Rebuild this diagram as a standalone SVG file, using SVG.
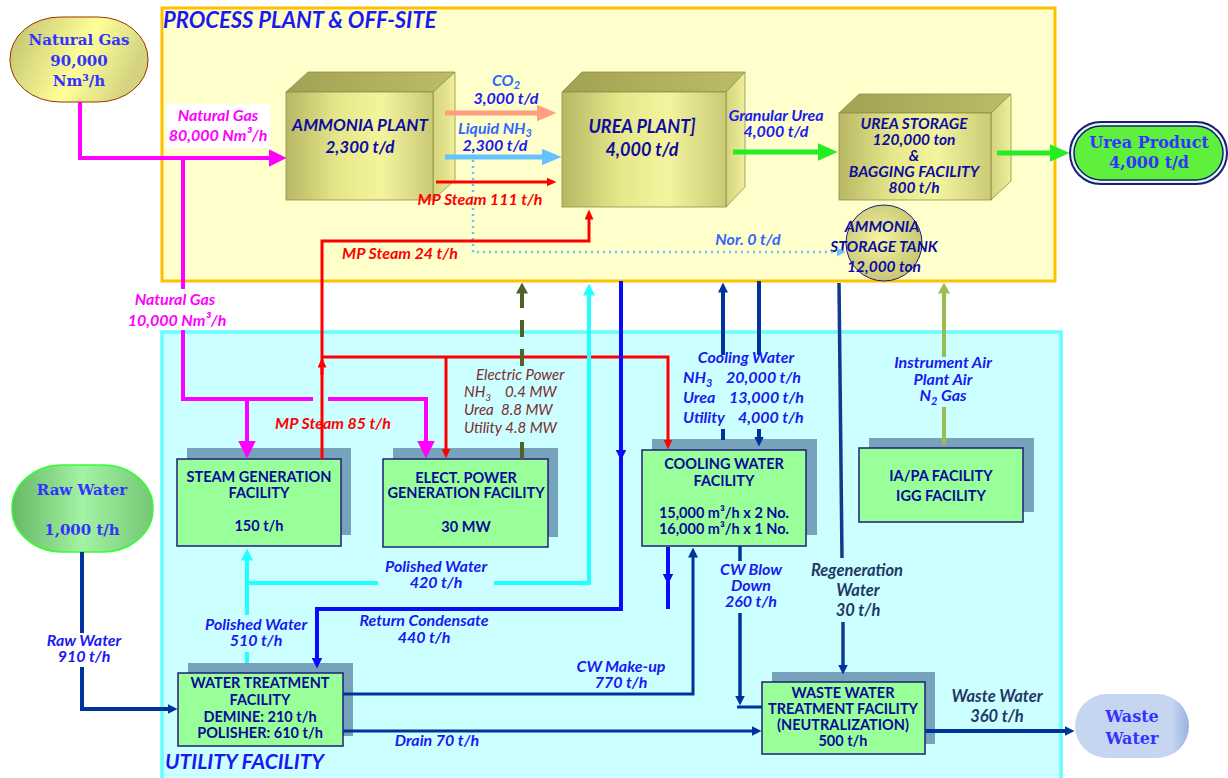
<svg xmlns="http://www.w3.org/2000/svg" width="1228" height="778" viewBox="0 0 1228 778">
<style>
.box{font-family:Lato,"Liberation Sans",sans-serif;font-weight:700;font-size:14.5px;fill:#0A0A99;text-anchor:middle}
.plant{font-family:Lato,"Liberation Sans",sans-serif;font-style:italic;font-weight:700;font-size:17px;fill:#0D0D9E;text-anchor:middle}
.lbl{font-family:Lato,"Liberation Sans",sans-serif;font-style:italic;font-weight:700;font-size:16px;fill:#1A1AF0;text-anchor:middle}
.lbl2{font-family:Lato,"Liberation Sans",sans-serif;font-style:italic;font-weight:700;font-size:16px;fill:#3366FF;text-anchor:middle}
.mag{font-family:Lato,"Liberation Sans",sans-serif;font-style:italic;font-weight:700;font-size:16px;fill:#FF00FF;text-anchor:middle}
.red{font-family:Lato,"Liberation Sans",sans-serif;font-style:italic;font-weight:700;font-size:16px;fill:#FF0000;text-anchor:middle}
.brn{font-family:Lato,"Liberation Sans",sans-serif;font-style:italic;font-size:15px;fill:#7A2E2E}
.slate{font-family:Lato,"Liberation Sans",sans-serif;font-style:italic;font-weight:700;font-size:16.5px;fill:#1F3864;text-anchor:middle}
.ser{font-family:"DejaVu Serif","Liberation Serif",serif;font-weight:700;font-size:15px;fill:#3333FF;text-anchor:middle}
.title{font-family:Lato,"Liberation Sans",sans-serif;font-style:italic;font-weight:700;font-size:22px;fill:#1A1AF0}
.fac{fill:#99FF99;stroke:#1F1F7A;stroke-width:1.5}
.shd{fill:#77A2BC}
</style>
<defs>
<linearGradient id="gFront" x1="0" y1="0" x2="1" y2="0">
<stop offset="0" stop-color="#B8B865"/><stop offset="0.35" stop-color="#E6E68A"/><stop offset="0.65" stop-color="#F4F49E"/><stop offset="1" stop-color="#CACA74"/>
</linearGradient>
<linearGradient id="gRight" x1="0" y1="0" x2="1" y2="0">
<stop offset="0" stop-color="#D4D47C"/><stop offset="1" stop-color="#EEEE9C"/>
</linearGradient>
<linearGradient id="gTop" x1="0" y1="0" x2="1" y2="0">
<stop offset="0" stop-color="#A2A254"/><stop offset="1" stop-color="#BDBD66"/>
</linearGradient>
<linearGradient id="gGas" x1="0" y1="0" x2="1" y2="0.3">
<stop offset="0" stop-color="#BDBD6C"/><stop offset="0.6" stop-color="#FFFF99"/><stop offset="1" stop-color="#D4D480"/>
</linearGradient>
<linearGradient id="gRaw" x1="0" y1="0" x2="1" y2="0">
<stop offset="0" stop-color="#66B866"/><stop offset="0.5" stop-color="#A4F2A4"/><stop offset="1" stop-color="#74C874"/>
</linearGradient>
<linearGradient id="gWaste" x1="0" y1="0" x2="1" y2="0">
<stop offset="0" stop-color="#C6D6F0"/><stop offset="0.85" stop-color="#C6D6F0"/><stop offset="1" stop-color="#98B2E0"/>
</linearGradient>
<radialGradient id="gTank" cx="0.45" cy="0.45" r="0.6">
<stop offset="0" stop-color="#F6F6A0"/><stop offset="1" stop-color="#C2C270"/>
</radialGradient>
<marker id="mMag" viewBox="0 0 18 18" refX="0.5" refY="9" markerWidth="18" markerHeight="18" markerUnits="userSpaceOnUse" orient="auto"><path d="M0,0L18,9L0,18z" fill="#FF00FF"/></marker>
<marker id="mSal" viewBox="0 0 20 17" refX="0.5" refY="8.5" markerWidth="20" markerHeight="17" markerUnits="userSpaceOnUse" orient="auto"><path d="M0,0L20,8.5L0,17z" fill="#FF9F80"/></marker>
<marker id="mLb" viewBox="0 0 20 17" refX="0.5" refY="8.5" markerWidth="20" markerHeight="17" markerUnits="userSpaceOnUse" orient="auto"><path d="M0,0L20,8.5L0,17z" fill="#66C2FF"/></marker>
<marker id="mGr" viewBox="0 0 20 18" refX="0.5" refY="9" markerWidth="20" markerHeight="18" markerUnits="userSpaceOnUse" orient="auto"><path d="M0,0L20,9L0,18z" fill="#22EE22"/></marker>
<marker id="mRed" viewBox="0 0 10 9" refX="0.5" refY="4.5" markerWidth="10" markerHeight="9" markerUnits="userSpaceOnUse" orient="auto"><path d="M0,0L10,4.5L0,9z" fill="#FF0000"/></marker>
<marker id="mNavy" viewBox="0 0 10 10" refX="0.5" refY="5" markerWidth="10" markerHeight="10" markerUnits="userSpaceOnUse" orient="auto"><path d="M0,0L10,5L0,10z" fill="#003399"/></marker>
<marker id="mBlue" viewBox="0 0 11 11" refX="0.5" refY="5.5" markerWidth="11" markerHeight="11" markerUnits="userSpaceOnUse" orient="auto"><path d="M0,0L11,5.5L0,11z" fill="#0A0AFF"/></marker>
<marker id="mCyan" viewBox="0 0 12 12" refX="0.5" refY="6" markerWidth="12" markerHeight="12" markerUnits="userSpaceOnUse" orient="auto"><path d="M0,0L12,6L0,12z" fill="#22FFFF"/></marker>
<marker id="mOl" viewBox="0 0 11 12" refX="0.5" refY="6" markerWidth="11" markerHeight="12" markerUnits="userSpaceOnUse" orient="auto"><path d="M0,0L11,6L0,12z" fill="#4F6228"/></marker>
<marker id="mOl2" viewBox="0 0 11 12" refX="0.5" refY="6" markerWidth="11" markerHeight="12" markerUnits="userSpaceOnUse" orient="auto"><path d="M0,0L11,6L0,12z" fill="#9BBB59"/></marker>
<marker id="mDot" viewBox="0 0 9 9" refX="0.5" refY="4.5" markerWidth="9" markerHeight="9" markerUnits="userSpaceOnUse" orient="auto"><path d="M0,0L9,4.5L0,9z" fill="#66C2FF"/></marker>
</defs>

<rect width="1228" height="778" fill="#FFFFFF"/>

<g id="process-area">
<rect x="162" y="8" width="893" height="273" fill="#FFFFCC" stroke="#FFC000" stroke-width="3"/>
<text class="title" x="163" y="28">PROCESS PLANT &amp; OFF-SITE</text>
</g>
<g id="utility-area">
<rect x="162" y="332" width="899" height="448" fill="#CCFFFF" stroke="#66FFFF" stroke-width="3.5"/>
<text class="title" x="165" y="769" style="font-size:21px">UTILITY FACILITY</text>
</g>

<g id="natural-gas">
<rect x="10" y="17" width="138" height="85" rx="50" ry="42" fill="url(#gGas)" stroke="#993300" stroke-width="1"/>
<text class="ser" x="79" y="45">Natural Gas</text>
<text class="ser" x="79" y="66">90,000</text>
<text class="ser" x="79" y="86">Nm³/h</text>
</g>

<g id="ammonia-plant">
<polygon points="286,92 308,72 455,72 433,92" fill="url(#gTop)" stroke="#8E8E48" stroke-width="0.8"/>
<polygon points="433,92 455,72 455,180 433,200" fill="url(#gRight)" stroke="#8E8E48" stroke-width="0.8"/>
<rect x="286" y="92" width="147" height="108" fill="url(#gFront)" stroke="#8E8E48" stroke-width="0.8"/>
<text class="plant" x="360" y="131">AMMONIA PLANT</text>
<text class="plant" x="360" y="153">2,300 t/d</text>
</g>

<g id="urea-plant">
<polygon points="562,92 582,72 745,72 726,92" fill="url(#gTop)" stroke="#8E8E48" stroke-width="0.8"/>
<polygon points="726,92 745,72 745,187 726,207" fill="url(#gRight)" stroke="#8E8E48" stroke-width="0.8"/>
<rect x="562" y="92" width="164" height="115" fill="url(#gFront)" stroke="#8E8E48" stroke-width="0.8"/>
<text class="plant" x="642" y="133" style="font-size:18px">UREA PLANT]</text>
<text class="plant" x="642" y="156" style="font-size:18px">4,000 t/d</text>
</g>

<g id="urea-storage">
<polygon points="839,113 859,94 1011,94 991,113" fill="url(#gTop)" stroke="#8E8E48" stroke-width="0.8"/>
<polygon points="991,113 1011,94 1011,181 991,200" fill="url(#gRight)" stroke="#8E8E48" stroke-width="0.8"/>
<rect x="839" y="113" width="152" height="87" fill="url(#gFront)" stroke="#8E8E48" stroke-width="0.8"/>
<text class="plant" x="914" y="129" style="font-size:15.5px">UREA STORAGE</text>
<text class="plant" x="914" y="145" style="font-size:15.5px">120,000  ton</text>
<text class="plant" x="914" y="161" style="font-size:15.5px">&amp;</text>
<text class="plant" x="914" y="177" style="font-size:15.5px">BAGGING FACILITY</text>
<text class="plant" x="914" y="193" style="font-size:15.5px">800  t/h</text>
</g>

<g id="urea-product">
<rect x="1070" y="122" width="157" height="62" rx="31" fill="#DDFFDD" stroke="#1A1A80" stroke-width="2"/>
<rect x="1074" y="126" width="149" height="54" rx="27" fill="#5EF03C" stroke="#1A1A80" stroke-width="1.5"/>
<text class="ser" x="1149" y="148" style="font-size:16px">Urea Product</text>
<text class="ser" x="1149" y="168" style="font-size:16px">4,000  t/d</text>
</g>

<g id="ammonia-tank">
<circle cx="884" cy="243" r="38" fill="url(#gTank)" stroke="#1A1A80" stroke-width="1"/>
<text class="plant" x="882" y="232" style="font-size:15.5px">AMMONIA</text>
<text class="plant" x="884" y="252" style="font-size:15.5px">STORAGE TANK</text>
<text class="plant" x="884" y="272" style="font-size:15.5px">12,000 ton</text>
</g>

<g id="raw-water">
<rect x="12" y="465" width="141" height="87" rx="50" ry="43" fill="url(#gRaw)" stroke="#33FF33" stroke-width="1.5"/>
<text class="ser" x="82" y="495">Raw Water</text>
<text class="ser" x="82" y="535">1,000 t/h</text>
</g>

<g id="waste-water">
<rect x="1075" y="694" width="114" height="64" rx="32" fill="url(#gWaste)"/>
<text class="ser" x="1132" y="722" style="font-size:16px">Waste</text>
<text class="ser" x="1132" y="744" style="font-size:16px">Water</text>
</g>

<g id="steam-generation">
<rect class="shd" x="187" y="448" width="164" height="87"/>
<rect class="fac" x="177" y="459" width="164" height="87"/>
<text class="box" x="259" y="482">STEAM GENERATION</text>
<text class="box" x="259" y="498">FACILITY</text>
<text class="box" x="259" y="531">150 t/h</text>
</g>

<g id="power-generation">
<rect class="shd" x="393" y="448" width="165" height="89"/>
<rect class="fac" x="383" y="459" width="165" height="88"/>
<text class="box" x="466" y="483">ELECT. POWER</text>
<text class="box" x="466" y="498">GENERATION FACILITY</text>
<text class="box" x="466" y="532">30 MW</text>
</g>

<g id="cooling-water">
<rect class="shd" x="652" y="439" width="165" height="96"/>
<rect class="fac" x="642" y="450" width="164" height="96"/>
<text class="box" x="724" y="469">COOLING WATER</text>
<text class="box" x="724" y="486">FACILITY</text>
<text class="box" x="724" y="518">15,000 m³/h x 2 No.</text>
<text class="box" x="724" y="534">16,000 m³/h x 1 No.</text>
</g>

<g id="ia-pa">
<rect class="shd" x="869" y="438" width="165" height="74"/>
<rect class="fac" x="859" y="448" width="164" height="74"/>
<text class="box" x="941" y="481">IA/PA FACILITY</text>
<text class="box" x="941" y="501">IGG FACILITY</text>
</g>

<g id="water-treatment">
<rect class="shd" x="188" y="663" width="165" height="73"/>
<rect class="fac" x="178" y="673" width="165" height="73"/>
<text class="box" x="260" y="688">WATER TREATMENT</text>
<text class="box" x="260" y="705">FACILITY</text>
<text class="box" x="260" y="722">DEMINE:  210 t/h</text>
<text class="box" x="260" y="738">POLISHER: 610 t/h</text>
</g>

<g id="waste-treatment">
<rect class="shd" x="772" y="672" width="163" height="72"/>
<rect class="fac" x="762" y="682" width="163" height="72"/>
<text class="box" x="843" y="698">WASTE WATER</text>
<text class="box" x="843" y="714">TREATMENT FACILITY</text>
<text class="box" x="843" y="730">(NEUTRALIZATION)</text>
<text class="box" x="843" y="746">500 t/h</text>
</g>

<g id="connectors" fill="none">
<path d="M80,102 V158 H269" stroke="#FF00FF" stroke-width="4" marker-end="url(#mMag)"/>
<path d="M183,158 V289 M183,330 V399 H313 M328,399 H426 V441" stroke="#FF00FF" stroke-width="4"/>
<path d="M426,420 V441" stroke="#FF00FF" stroke-width="4" marker-end="url(#mMag)"/>
<path d="M247,399 V441" stroke="#FF00FF" stroke-width="4" marker-end="url(#mMag)"/>
<path d="M445,113 H537" stroke="#FF9F80" stroke-width="5" marker-end="url(#mSal)"/>
<path d="M445,157 H542" stroke="#66C2FF" stroke-width="5" marker-end="url(#mLb)"/>
<path d="M436,182 H547" stroke="#FF0000" stroke-width="3" marker-end="url(#mRed)"/>
<path d="M473,160 V252 H837" stroke="#66C2FF" stroke-width="2.5" stroke-dasharray="2,4" marker-end="url(#mDot)"/>
<path d="M733,152 H818" stroke="#22EE22" stroke-width="5" marker-end="url(#mGr)"/>
<path d="M997,153 H1050" stroke="#22EE22" stroke-width="5" marker-end="url(#mGr)"/>
<path d="M322,459 V241 H589 V219" stroke="#FF0000" stroke-width="3" marker-end="url(#mRed)"/>
<path d="M322,375 V367" stroke="#FF0000" stroke-width="3" marker-end="url(#mRed)"/>
<path d="M322,357 H668 V440" stroke="#FF0000" stroke-width="3" marker-end="url(#mRed)"/>
<path d="M446,357 V449" stroke="#FF0000" stroke-width="3" marker-end="url(#mRed)"/>
<path d="M522,459 V442" stroke="#4F6228" stroke-width="4"/>
<path d="M522,366 V293" stroke="#4F6228" stroke-width="4" stroke-dasharray="17,12" marker-end="url(#mOl)"/>
<path d="M247,663 V652" stroke="#22FFFF" stroke-width="4"/>
<path d="M247,615 V560" stroke="#22FFFF" stroke-width="4" marker-end="url(#mCyan)"/>
<path d="M247,583 H378 M494,583 H589 V295" stroke="#22FFFF" stroke-width="4" marker-end="url(#mCyan)"/>
<path d="M621,281 V609 H317 V658" stroke="#0A0AFF" stroke-width="4" marker-end="url(#mBlue)"/>
<path d="M621,440 V450" stroke="#0A0AFF" stroke-width="4" marker-end="url(#mBlue)"/>
<path d="M668,547 V609" stroke="#0A0AFF" stroke-width="4"/>
<path d="M668,560 V574" stroke="#0A0AFF" stroke-width="4" marker-end="url(#mBlue)"/>
<path d="M723,440 V429 M723,355 V292" stroke="#003399" stroke-width="4" marker-end="url(#mNavy)"/>
<path d="M759,281 V355 M759,429 V437" stroke="#003399" stroke-width="4" marker-end="url(#mNavy)"/>
<path d="M944,445 V407 M944,357 V293" stroke="#9BBB59" stroke-width="4" marker-end="url(#mOl2)"/>
<path d="M82,552 V633 M82,667 V709 H168" stroke="#003399" stroke-width="4" marker-end="url(#mNavy)"/>
<path d="M343,694 H693 V557" stroke="#003399" stroke-width="3" marker-end="url(#mNavy)"/>
<path d="M343,731 H752" stroke="#003399" stroke-width="3" marker-end="url(#mNavy)"/>
<path d="M740,546 V561 M740,613 V696" stroke="#003399" stroke-width="3.5" marker-end="url(#mNavy)"/>
<path d="M737,707 H762" stroke="#003399" stroke-width="3"/>
<path d="M839,283 L842,558" stroke="#0F3A8F" stroke-width="3.5"/>
<path d="M843,622 V665" stroke="#0F3A8F" stroke-width="3.5" marker-end="url(#mNavy)"/>
<path d="M925,731 H1065" stroke="#003399" stroke-width="4" marker-end="url(#mNavy)"/>
</g>

<g id="labels">
<rect x="166" y="104" width="104" height="44" fill="#FFFFFF"/>
<text class="mag" x="218" y="121">Natural Gas</text>
<text class="mag" x="218" y="141">80,000 Nm³/h</text>
<rect x="126" y="290" width="114" height="40" fill="#FFFFFF"/>
<text class="mag" x="175" y="305">Natural Gas</text>
<text class="mag" x="177" y="326">10,000 Nm³/h</text>

<text class="lbl2" x="506" y="86">CO<tspan dy="3" font-size="11">2</tspan></text>
<text class="lbl" x="506" y="104">3,000 t/d</text>
<text class="lbl2" x="495" y="134">Liquid NH<tspan dy="3" font-size="11">3</tspan></text>
<text class="lbl" x="495" y="151">2,300  t/d</text>
<text class="red" x="480" y="205">MP Steam 111 t/h</text>
<text class="red" x="400" y="259">MP Steam 24 t/h</text>
<text class="lbl2" x="748" y="245">Nor. 0 t/d</text>
<text class="lbl" x="776" y="121">Granular Urea</text>
<text class="lbl" x="776" y="137">4,000 t/d</text>

<text class="red" x="333" y="429">MP Steam  85 t/h</text>

<text class="brn" x="476" y="380">Electric Power</text>
<text class="brn" x="464" y="397">NH<tspan dy="4" font-size="10">3</tspan></text>
<text class="brn" x="505" y="397">0.4 MW</text>
<text class="brn" x="464" y="415">Urea</text>
<text class="brn" x="501" y="415">8.8 MW</text>
<text class="brn" x="464" y="433">Utility 4.8 MW</text>

<text class="lbl" x="746" y="363">Cooling Water</text>
<text class="lbl" x="683" y="383" style="text-anchor:start">NH<tspan dy="4" font-size="11">3</tspan></text>
<text class="lbl" x="726" y="383" style="text-anchor:start">20,000 t/h</text>
<text class="lbl" x="683" y="403" style="text-anchor:start">Urea</text>
<text class="lbl" x="729" y="403" style="text-anchor:start">13,000 t/h</text>
<text class="lbl" x="683" y="423" style="text-anchor:start">Utility</text>
<text class="lbl" x="738" y="423" style="text-anchor:start">4,000 t/h</text>

<text class="lbl" x="943" y="368">Instrument Air</text>
<text class="lbl" x="943" y="385">Plant Air</text>
<text class="lbl" x="943" y="401">N<tspan dy="4" font-size="11">2</tspan><tspan dy="-4"> Gas</tspan></text>

<text class="lbl" x="436" y="572">Polished Water</text>
<text class="lbl" x="436" y="588">420 t/h</text>
<text class="lbl" x="256" y="630">Polished Water</text>
<text class="lbl" x="256" y="646">510 t/h</text>
<text class="lbl" x="424" y="626">Return Condensate</text>
<text class="lbl" x="424" y="643">440 t/h</text>
<text class="lbl" x="621" y="672">CW Make-up</text>
<text class="lbl" x="621" y="688">770 t/h</text>
<text class="lbl" x="437" y="746">Drain 70 t/h</text>
<text class="lbl" x="84" y="646">Raw Water</text>
<text class="lbl" x="84" y="662">910 t/h</text>
<text class="lbl" x="751" y="575">CW Blow</text>
<text class="lbl" x="751" y="591">Down</text>
<text class="lbl" x="751" y="607">260 t/h</text>
<text class="slate" x="857" y="576">Regeneration</text>
<text class="slate" x="858" y="596">Water</text>
<text class="slate" x="858" y="616">30 t/h</text>
<text class="slate" x="997" y="702">Waste Water</text>
<text class="slate" x="997" y="722">360 t/h</text>
</g>
</svg>
